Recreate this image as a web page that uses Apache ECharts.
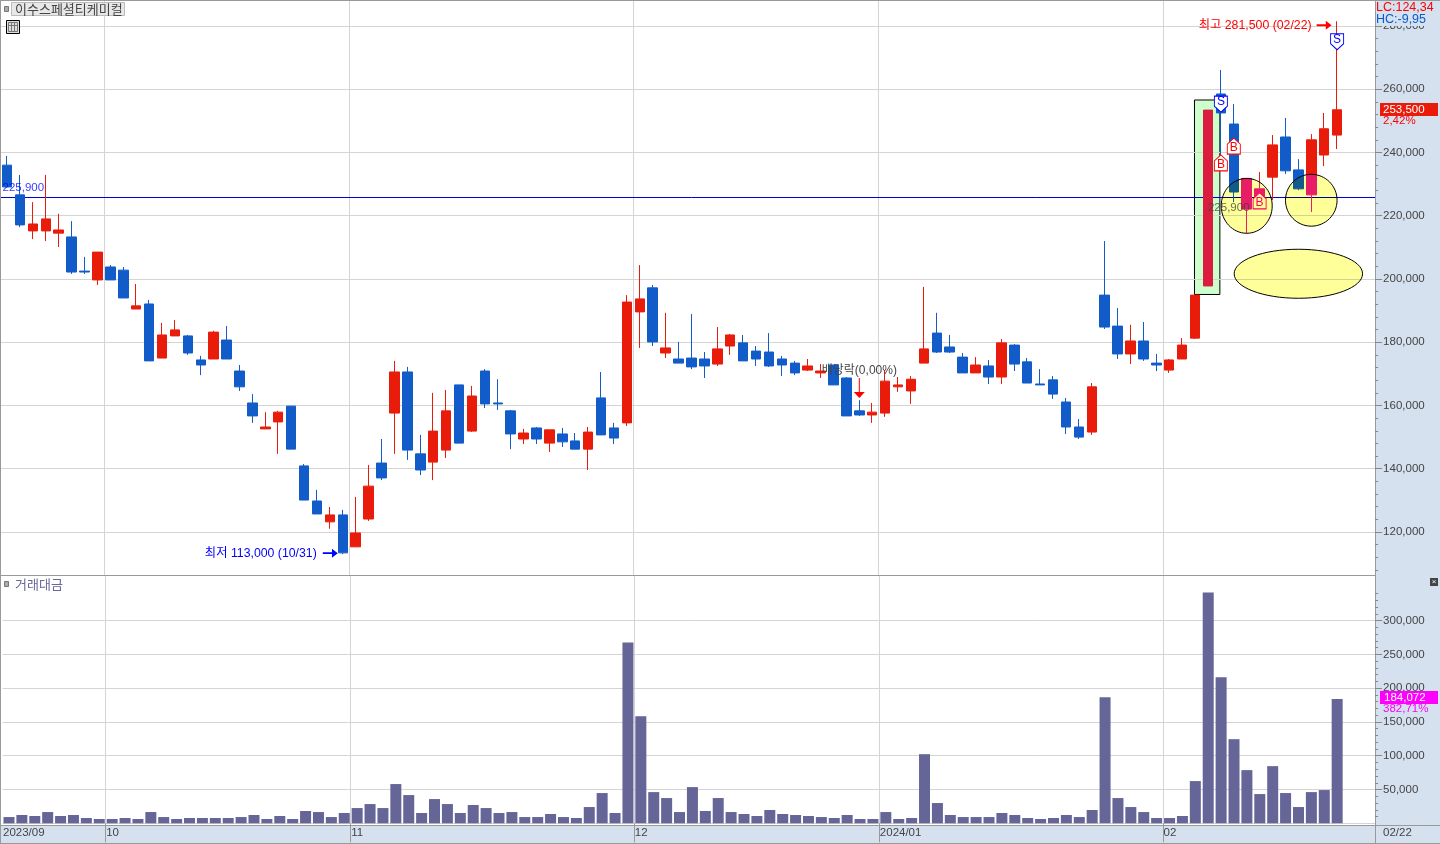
<!DOCTYPE html>
<html lang="ko">
<head>
<meta charset="utf-8">
<title>이수스페셜티케미컬</title>
<script src="https://cdn.jsdelivr.net/npm/echarts@6/dist/echarts.min.js"></script>
<style>html,body{margin:0;padding:0;background:#fff}#c{width:1440px;height:844px}</style>
</head>
<body>
<div id="c"></div>
<script>
const stockName = '이수스페셜티케미컬';
const volumeName = '거래대금';
const dates = [
'2023-09-18','2023-09-19','2023-09-20','2023-09-21','2023-09-22','2023-09-25','2023-09-26','2023-09-27',
'2023-10-04','2023-10-05','2023-10-06','2023-10-10','2023-10-11','2023-10-12','2023-10-13','2023-10-16','2023-10-17','2023-10-18','2023-10-19','2023-10-20','2023-10-23','2023-10-24','2023-10-25','2023-10-26','2023-10-27','2023-10-30','2023-10-31',
'2023-11-01','2023-11-02','2023-11-03','2023-11-06','2023-11-07','2023-11-08','2023-11-09','2023-11-10','2023-11-13','2023-11-14','2023-11-15','2023-11-16','2023-11-17','2023-11-20','2023-11-21','2023-11-22','2023-11-23','2023-11-24','2023-11-27','2023-11-28','2023-11-29','2023-11-30',
'2023-12-01','2023-12-04','2023-12-05','2023-12-06','2023-12-07','2023-12-08','2023-12-11','2023-12-12','2023-12-13','2023-12-14','2023-12-15','2023-12-18','2023-12-19','2023-12-20','2023-12-21','2023-12-22','2023-12-26','2023-12-27','2023-12-28',
'2024-01-02','2024-01-03','2024-01-04','2024-01-05','2024-01-08','2024-01-09','2024-01-10','2024-01-11','2024-01-12','2024-01-15','2024-01-16','2024-01-17','2024-01-18','2024-01-19','2024-01-22','2024-01-23','2024-01-24','2024-01-25','2024-01-26','2024-01-29','2024-01-30','2024-01-31',
'2024-02-01','2024-02-02','2024-02-05','2024-02-06','2024-02-07','2024-02-08','2024-02-13','2024-02-14','2024-02-15','2024-02-16','2024-02-19','2024-02-20','2024-02-21','2024-02-22'
];
const opens = [236000,226600,215200,215200,214500,213300,202500,199700,203800,202800,
190500,192100,175000,182000,182000,174400,174700,180700,170900,160800,
152600,154800,159800,140900,129800,123200,125400,115300,124100,141800,
157600,170600,144700,142100,145900,166500,151900,170900,160800,158300,
149400,152900,148100,151000,148800,146200,162400,152900,154500,189600,
197200,176600,174700,175000,174700,173100,178800,179800,177200,176900,
174700,173400,171200,170300,172800,168700,158300,157000,157600,165900,
164600,173400,182900,178500,175300,170300,172500,169000,179100,173800,
166800,168100,161100,153200,151600,194900,185100,176300,180400,173400,
171200,174700,181300,197800,258500,249000,222100,225600,232200,244900,
234500,226600,239200,245500];
const closes = [229100,217100,217400,219000,215500,202200,202200,208500,199700,194000,
191500,174100,182300,183900,176600,172800,183200,174700,165900,156700,
153200,157900,146200,130100,125700,125400,113400,119700,134500,137100,
170600,145900,139600,151900,158300,148100,163000,160500,160500,151000,
151300,149400,152300,148500,146200,151600,150700,149700,192700,193700,
180100,178200,173400,172200,172500,177900,182300,174100,174700,172500,
172800,170300,172500,170900,166500,156700,157000,157900,167700,166500,
168300,177900,176900,176900,170300,172800,169000,179800,173100,167100,
166500,163600,153200,150000,165900,184800,176300,180400,174700,172800,
174400,179100,194900,253400,252500,227500,231800,228500,242400,234200,
228500,244000,247500,253500];
const lows = [229100,216400,212600,212000,210100,201600,201600,198100,199700,194000,
190500,174100,175000,182000,176000,169600,174700,174700,164600,154500,
152600,144700,146200,130100,125700,121000,113000,115300,123500,136400,
144700,142800,138000,136400,143400,148100,151600,159200,158600,146200,
147800,147800,145300,146900,146200,139600,150700,147800,153500,178200,
178800,175000,173400,171500,168700,172500,176000,174100,172500,172200,
169300,169600,170900,168700,166500,156700,156700,154500,156400,164300,
160500,173400,176600,176600,170300,170300,166800,166800,170900,167100,
166500,162100,151000,149400,150700,184200,174700,173100,174100,170900,
170300,174700,181000,197800,234200,224300,214500,222800,225000,233200,
228100,221200,235700,241100];
const highs = [238900,232900,224300,232900,220600,218300,207000,208500,204400,203800,
198400,193400,186100,187000,182300,175700,183600,185100,172800,163600,
157900,158300,159800,141500,133300,127900,127000,131100,141200,149400,
174100,172200,150700,164000,164900,166500,166200,171500,168300,158600,
152600,153200,152300,152900,151300,153200,170600,154500,194900,204400,
198100,189300,180100,188900,176900,184800,182600,182300,178800,182900,
175700,174100,174700,173100,172800,169000,161700,160800,171200,169000,
169300,197500,189300,182300,176600,175300,174400,181000,179400,175000,
171500,169300,162400,155700,167100,212000,190800,185500,186400,176300,
174700,181300,194900,253400,266100,255300,231800,233800,245500,250900,
237900,245800,252500,281500];
const volumes = [9300,12300,10800,16700,10800,12300,7900,6400,6400,7900,
6400,16700,9300,6400,7900,7900,7900,7900,9300,12300,
6400,10800,6400,18200,16700,9300,15300,22600,28500,22600,
58100,41800,15300,35900,28500,15300,27100,22600,15300,16700,
9300,9300,13800,9300,7900,24100,44800,15300,267600,158400,
46200,37400,16700,53600,18200,37400,16700,13800,10800,19700,
13800,12300,10800,9300,7900,12300,6400,6400,16700,6400,
7900,102300,30000,12300,9300,9300,9300,15300,12300,7900,
6400,7900,12300,9300,19700,186500,37400,24100,16700,7900,
7900,10800,62500,341400,216000,124500,78700,43300,84600,44800,
24100,46200,49200,184072];
const monthStarts = [0,8,27,49,68,90];
const monthLabels = ['2023/09','10','11','12','2024/01','02'];
const priceTicks = [120000,140000,160000,180000,200000,220000,240000,260000,280000];
const volumeTicks = [50000,100000,150000,200000,250000,300000];
const referenceLine = 225900;
const lastPrice = '253,500', lastChange = '2,42%';
const lastVolume = '184,072', lastVolumeChange = '382,71%';
const lastDate = '02/22';
const buySignals = [[94,236700],[95,242000],[97,224700]];
const sellSignals = [[94,255300],[103,275000]];
const circleNotes = [[96,231800,214450,25.5],[101,233100,216700,25.8],[100,209400,193900,64.2]];
const boxNotes = [[93,256600,195100]];

const BLANK_SLOTS = 3;
const cats = dates.concat(Array(BLANK_SLOTS).fill(''));
const RED='#e91c0b', BLUE='#125cc9', GRID='#d4d4d4', PANEL='#d5e1ef', EDGE='#999999', TXT='#444444';
const FONT='"Liberation Sans","Noto Sans CJK KR",sans-serif', KFONT='"Noto Sans CJK KR",sans-serif';
const FS=11.5;
const priceRange={min:106400,max:287900}, volRange={min:-1000,max:365900};
const minorPrice=[],minorVol=[];
for(let v=108000;v<288000;v+=4000) if(v%20000) minorPrice.push(v);
for(let v=10000;v<360000;v+=10000) if(v%50000) minorVol.push(v);
const comma=v=>Number(v).toLocaleString('en-US');

const candleData = dates.map((d,i)=>{
  const value=[opens[i],closes[i],lows[i],highs[i]];
  if(i===boxNotes[0][0]) return {value,itemStyle:{color:'#db1c3f',color0:'#db1c3f',borderColor:'#db1c3f',borderColor0:'#db1c3f'}};
  return value;
});
const ARROW_R='path://M0,4 L11,4 L11,0 L18,5 L11,10 L11,6 L0,6 Z';
const ARROW_D='path://M5,0 L6,0 L6,14 L11,14 L5.5,20 L0,14 L5,14 Z';
const HOUSE='path://M6.5,0 L13,6 L13,16 L0,16 L0,6 Z';
const SHIELD='path://M0,0 L13,0 L13,10 L6.5,16 L0,10 Z';
const txt=(color)=>({show:true,color,fontFamily:FONT,fontSize:12});

function mainAxis(grid,range,ticks){return {type:'value',gridIndex:grid,position:'left',min:range.min,max:range.max,
  axisLine:{show:false},axisLabel:{show:false},axisTick:{show:false,customValues:ticks},
  splitLine:{show:true,customValues:ticks,lineStyle:{color:GRID,width:1}}};}
function labelAxis(grid,range,ticks){return {type:'value',gridIndex:grid,position:'right',offset:-7.2,z:10,min:range.min,max:range.max,
  axisLine:{show:true,onZero:false,lineStyle:{color:EDGE,width:1}},splitLine:{show:false},
  axisTick:{show:true,length:7,customValues:ticks,lineStyle:{color:'#888'}},
  axisLabel:{show:true,margin:8,customValues:ticks,color:TXT,fontFamily:FONT,fontSize:FS,formatter:comma}};}
function minorAxis(grid,range,ticks){return {type:'value',gridIndex:grid,position:'right',offset:-7.2,z:10,min:range.min,max:range.max,
  axisLine:{show:false},splitLine:{show:false},axisLabel:{show:false},
  axisTick:{show:true,length:3,customValues:ticks,lineStyle:{color:'#888'}}};}
function xAx(grid,labels){return {type:'category',gridIndex:grid,data:cats,boundaryGap:true,
  axisLine:{show:false},
  axisTick:{show:labels,length:19,interval:(i)=>monthStarts.includes(i)&&i>0,lineStyle:{color:EDGE}},
  splitLine:{show:true,interval:(i)=>monthStarts.includes(i)&&i>0,lineStyle:{color:GRID,width:1}},
  axisLabel:{show:labels,interval:(i)=>monthStarts.includes(i),margin:3,align:'left',padding:[0,0,0,-6],color:TXT,fontFamily:FONT,fontSize:FS,
    formatter:(v,i)=>monthLabels[monthStarts.indexOf(i)]||''}};}

const opt={
  animation:false,backgroundColor:'#fff',
  grid:[{left:0.6,top:1,width:1381.7,height:574},{left:0.6,top:576,width:1381.7,height:248}],
  xAxis:[xAx(0,false),xAx(1,true)],
  yAxis:[mainAxis(0,priceRange,priceTicks),mainAxis(1,volRange,[0].concat(volumeTicks)),
         labelAxis(0,priceRange,priceTicks),minorAxis(0,priceRange,minorPrice),
         labelAxis(1,volRange,volumeTicks),minorAxis(1,volRange,minorVol)],
  series:[
   {type:'custom',name:'box',z:-1,silent:true,clip:false,xAxisIndex:0,yAxisIndex:0,data:boxNotes,encode:{x:0,y:[1,2]},
    renderItem:(p,api)=>{const a=api.coord([api.value(0),api.value(1)]),b=api.coord([api.value(0),api.value(2)]);
      return {type:'rect',shape:{x:a[0]-13.5,y:a[1],width:25.4,height:b[1]-a[1]},style:{fill:'#ccffcc',stroke:'#000',lineWidth:1}};}},
   {type:'candlestick',name:stockName,xAxisIndex:0,yAxisIndex:0,z:2,barWidth:10,data:candleData,
    itemStyle:{color:RED,color0:BLUE,borderColor:RED,borderColor0:BLUE,borderWidth:1},
    markLine:{silent:true,z:2,symbol:'none',label:{show:false},lineStyle:{color:'#0000cd',width:1,type:'solid'},data:[{yAxis:referenceLine}]}},
   {type:'bar',name:volumeName,xAxisIndex:1,yAxisIndex:1,barWidth:11,data:volumes,itemStyle:{color:'#656598'}},
   {type:'scatter',name:'B',xAxisIndex:0,yAxisIndex:0,z:2.5,silent:true,symbol:HOUSE,symbolSize:[13,16],data:buySignals,
    itemStyle:{color:'#fff',borderColor:'#ff0000',borderWidth:1,opacity:1},
    label:{show:true,position:'inside',offset:[0,2],formatter:'B',color:'#ff0000',fontFamily:FONT,fontSize:12}},
   {type:'scatter',name:'S',xAxisIndex:0,yAxisIndex:0,z:2.5,silent:true,symbol:SHIELD,symbolSize:[13,16],data:sellSignals,
    itemStyle:{color:'#fff',borderColor:'#0000ff',borderWidth:1,opacity:1},
    label:{show:true,position:'inside',offset:[0,-2],formatter:'S',color:'#0000ff',fontFamily:FONT,fontSize:12}},
   {type:'custom',name:'circles',z:3,silent:true,clip:false,xAxisIndex:0,yAxisIndex:0,data:circleNotes,encode:{x:0,y:[1,2]},
    renderItem:(p,api)=>{const a=api.coord([api.value(0),api.value(1)]),b=api.coord([api.value(0),api.value(2)]);
      const shape={cx:a[0],cy:(a[1]+b[1])/2,rx:api.value(3),ry:(b[1]-a[1])/2};
      return {type:'group',children:[
        {type:'ellipse',shape,style:{fill:'#000066',stroke:null,blend:'exclusion'}},
        {type:'ellipse',shape,style:{fill:'none',stroke:'#000',lineWidth:1}}]};}},
   {type:'scatter',name:'notes',xAxisIndex:0,yAxisIndex:0,z:4,silent:true,data:[
     {value:[103,281500],symbol:ARROW_R,symbolSize:[15,9],symbolOffset:[-13,4],itemStyle:{color:'#ff0000',opacity:1},
      label:{...txt('#ff0000'),fontSize:12.3,formatter:'최고 281,500 (02/22)',position:'left',distance:18,offset:[13,0]}},
     {value:[26,113000],symbol:ARROW_R,symbolSize:[15,9],symbolOffset:[-12.5,-1],itemStyle:{color:'#0000ff',opacity:1},
      label:{...txt('#0000ff'),fontSize:12.3,formatter:'최저 113,000 (10/31)',position:'left',distance:18,offset:[12,0]}},
     {value:[66,165500],symbol:ARROW_D,symbolSize:[11,20],itemStyle:{color:'#ff0000',opacity:1},
      label:{...txt(TXT),formatter:'배당락(0,00%)',position:'top',distance:1}},
     {value:[0,referenceLine],symbol:'circle',symbolSize:0,
      label:{...txt('#0000ff'),fontSize:FS,formatter:'225,900',position:'right',distance:0,offset:[-4.5,-9]}},
     {value:[93,referenceLine],symbol:'circle',symbolSize:0,
      label:{...txt(TXT),fontSize:FS,formatter:'225,900',position:'right',distance:0,offset:[0,11]}}
   ]}
  ],
  graphic:[
   {type:'rect',z:-2,silent:true,shape:{x:0,y:825,width:1440,height:19},style:{fill:PANEL}},
   {type:'rect',z:5,silent:true,shape:{x:1376,y:0,width:64,height:844},style:{fill:PANEL}},
   {type:'rect',z:11,silent:true,shape:{x:1376,y:1,width:64,height:25},style:{fill:PANEL}},
   {type:'line',z:9,silent:true,shape:{x1:0.5,y1:0,x2:0.5,y2:844},style:{stroke:EDGE,lineWidth:1}},
   {type:'line',z:9,silent:true,shape:{x1:0,y1:0.5,x2:1440,y2:0.5},style:{stroke:EDGE,lineWidth:1}},
   {type:'line',z:9,silent:true,shape:{x1:0,y1:575.5,x2:1376,y2:575.5},style:{stroke:EDGE,lineWidth:1}},
   {type:'line',z:9,silent:true,shape:{x1:0,y1:825.5,x2:1440,y2:825.5},style:{stroke:EDGE,lineWidth:1}},
   {type:'line',z:9,silent:true,shape:{x1:0,y1:843.5,x2:1440,y2:843.5},style:{stroke:EDGE,lineWidth:1}},
   {type:'line',z:9,silent:true,shape:{x1:1375.5,y1:0,x2:1375.5,y2:844},style:{stroke:EDGE,lineWidth:1}},
   {type:'rect',z:11,silent:true,shape:{x:4.5,y:6.5,width:4,height:5},style:{fill:'#aaa',stroke:'#777'}},
   {type:'rect',z:11,silent:true,shape:{x:11.5,y:2.5,width:113,height:13},style:{fill:'#e8e8e8',stroke:'#bbb'}},
   {type:'text',z:12,silent:true,x:15,y:9,style:{text:stockName,fill:TXT,font:'13px '+KFONT,textVerticalAlign:'middle'}},
   {type:'rect',z:11,silent:true,shape:{x:6.5,y:20.5,width:13,height:13},style:{fill:'#ddd',stroke:'#000'}},
   {type:'rect',z:12,silent:true,shape:{x:8.5,y:22.5,width:9,height:9},style:{fill:'none',stroke:'#777'}},
   {type:'line',z:12,silent:true,shape:{x1:8,y1:25.5,x2:18,y2:25.5},style:{stroke:'#777'}},
   {type:'line',z:12,silent:true,shape:{x1:11.5,y1:22,x2:11.5,y2:32},style:{stroke:'#777'}},
   {type:'line',z:12,silent:true,shape:{x1:14.5,y1:22,x2:14.5,y2:32},style:{stroke:'#777'}},
   {type:'rect',z:11,silent:true,shape:{x:4.5,y:581.5,width:4,height:5},style:{fill:'#aaa',stroke:'#777'}},
   {type:'text',z:12,silent:true,x:15,y:584,style:{text:volumeName,fill:'#66669a',font:'13px '+KFONT,textVerticalAlign:'middle'}},
   {type:'rect',z:11,silent:true,shape:{x:1430,y:578,width:8,height:8},style:{fill:'#444'}},
   {type:'text',z:12,silent:true,x:1434,y:582,style:{text:'×',fill:'#fff',font:'8px '+FONT,textAlign:'center',textVerticalAlign:'middle'}},
   {type:'text',z:12,silent:true,x:1376,y:8,style:{text:'LC:124,34',fill:'#ff0000',font:'12.5px '+FONT,textVerticalAlign:'middle'}},
   {type:'text',z:12,silent:true,x:1376,y:20,style:{text:'HC:-9,95',fill:'#0a5ad0',font:'12.5px '+FONT,textVerticalAlign:'middle'}},
   {type:'rect',z:11,silent:true,shape:{x:1380,y:103,width:58,height:13},style:{fill:RED}},
   {type:'text',z:12,silent:true,x:1383,y:110,style:{text:lastPrice,fill:'#fff',font:FS+'px '+FONT,textVerticalAlign:'middle'}},
   {type:'text',z:12,silent:true,x:1383,y:121,style:{text:lastChange,fill:'#ff0000',font:FS+'px '+FONT,textVerticalAlign:'middle'}},
   {type:'rect',z:11,silent:true,shape:{x:1380,y:691,width:58,height:13},style:{fill:'#ff00ff'}},
   {type:'text',z:12,silent:true,x:1384,y:698,style:{text:lastVolume,fill:'#fff',font:FS+'px '+FONT,textVerticalAlign:'middle'}},
   {type:'text',z:12,silent:true,x:1383,y:709,style:{text:lastVolumeChange,fill:'#ff00ff',font:FS+'px '+FONT,textVerticalAlign:'middle'}},
   {type:'text',z:12,silent:true,x:1383,y:833,style:{text:lastDate,fill:TXT,font:FS+'px '+FONT,textVerticalAlign:'middle'}}
  ]
};
const chart=echarts.init(document.getElementById('c'),null,{renderer:'canvas'});
chart.setOption(opt);
// The overlay ellipses invert only the blue channel of what lies under them.
function applyBlend(){
  chart.getZr().storage.getDisplayList(true).forEach(el=>{
    if(el.style && el.style.fill==='#000066' && el.style.blend!=='exclusion'){ el.style.blend='exclusion'; el.dirty(); }
  });
  chart.getZr().refreshImmediately();
}
applyBlend();
chart.on('finished',applyBlend);
</script>
</body>
</html>
